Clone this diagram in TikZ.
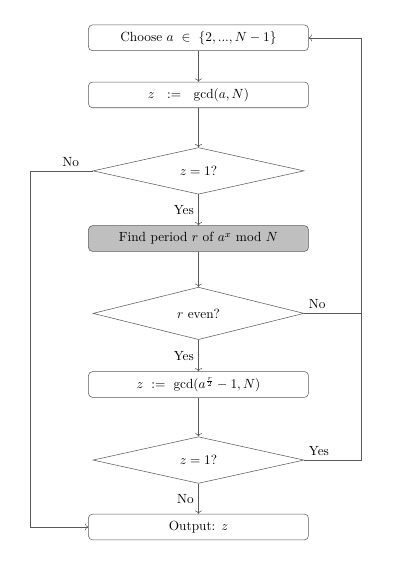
\documentclass[tikz,border=0pt]{standalone}
\usepackage{amsmath}
\usepackage{amssymb}
\usepackage{tikz}
\usetikzlibrary{arrows.meta,shapes.geometric}

\begin{document}
\begin{tikzpicture}[box/.style={draw=black!65, rounded corners=3pt, minimum width=5.82cm, minimum height=0.68cm},
                    test/.style={draw=black!65, diamond, minimum width=5.58cm, minimum height=1.22cm, inner sep=0pt},
                    flow/.style={draw=black!65}]
                \useasboundingbox (0,0) rectangle (10.74,-14.84);
                \coordinate (lft) at (0.79,0);
                \coordinate (rgt) at (9.56,0);
                \node [box] (choose) at (5.25,-1.0) {Choose $a\ \in\ \{2,...,N-1\}$};
                \node [box] (gcd) at (5.25,-2.51) {$z\ \ :=\ \ \gcd(a,N)$};
                \node [test] (trivial) at (5.25,-4.52) {$z=1?$};
                \node [box, fill=gray!50] (period) at (5.25,-6.31) {Find period $r$ of $a^x$ mod $N$};
                \node [test, minimum height=1.35cm] (even) at (5.25,-8.29) {$r$ even?};
                \node [box] (half) at (5.25,-10.17) {$z\ :=\ \gcd(a^{\frac{r}{2}}-1,N)$};
                \node [test] (again) at (5.25,-12.17) {$z=1?$};
                \node [box] (output) at (5.25,-13.94) {Output: $z$};
                \draw [flow, ->] (choose) -- (gcd);
                \draw [flow, ->] (gcd) -- (trivial);
                \draw [flow, ->] (trivial) -- node [left, black] {Yes} (period);
                \draw [flow, ->] (period) -- (even);
                \draw [flow, ->] (even) -- node [left, black] {Yes} (half);
                \draw [flow, ->] (half) -- (again);
                \draw [flow, ->] (again) -- node [left, black] {No} (output);
                \draw [flow, ->] (trivial.west) -- node [above, pos=0.35, black] {No} (trivial.west -| lft) |- (output.west);
                \draw [flow, ->] (again.east) node [above right, black] {Yes} -- (again.east -| rgt) |- (choose.east);
                \draw [flow] (even.east) node [above right, black] {No} -- (even.east -| rgt);
            \end{tikzpicture}
\end{document}
